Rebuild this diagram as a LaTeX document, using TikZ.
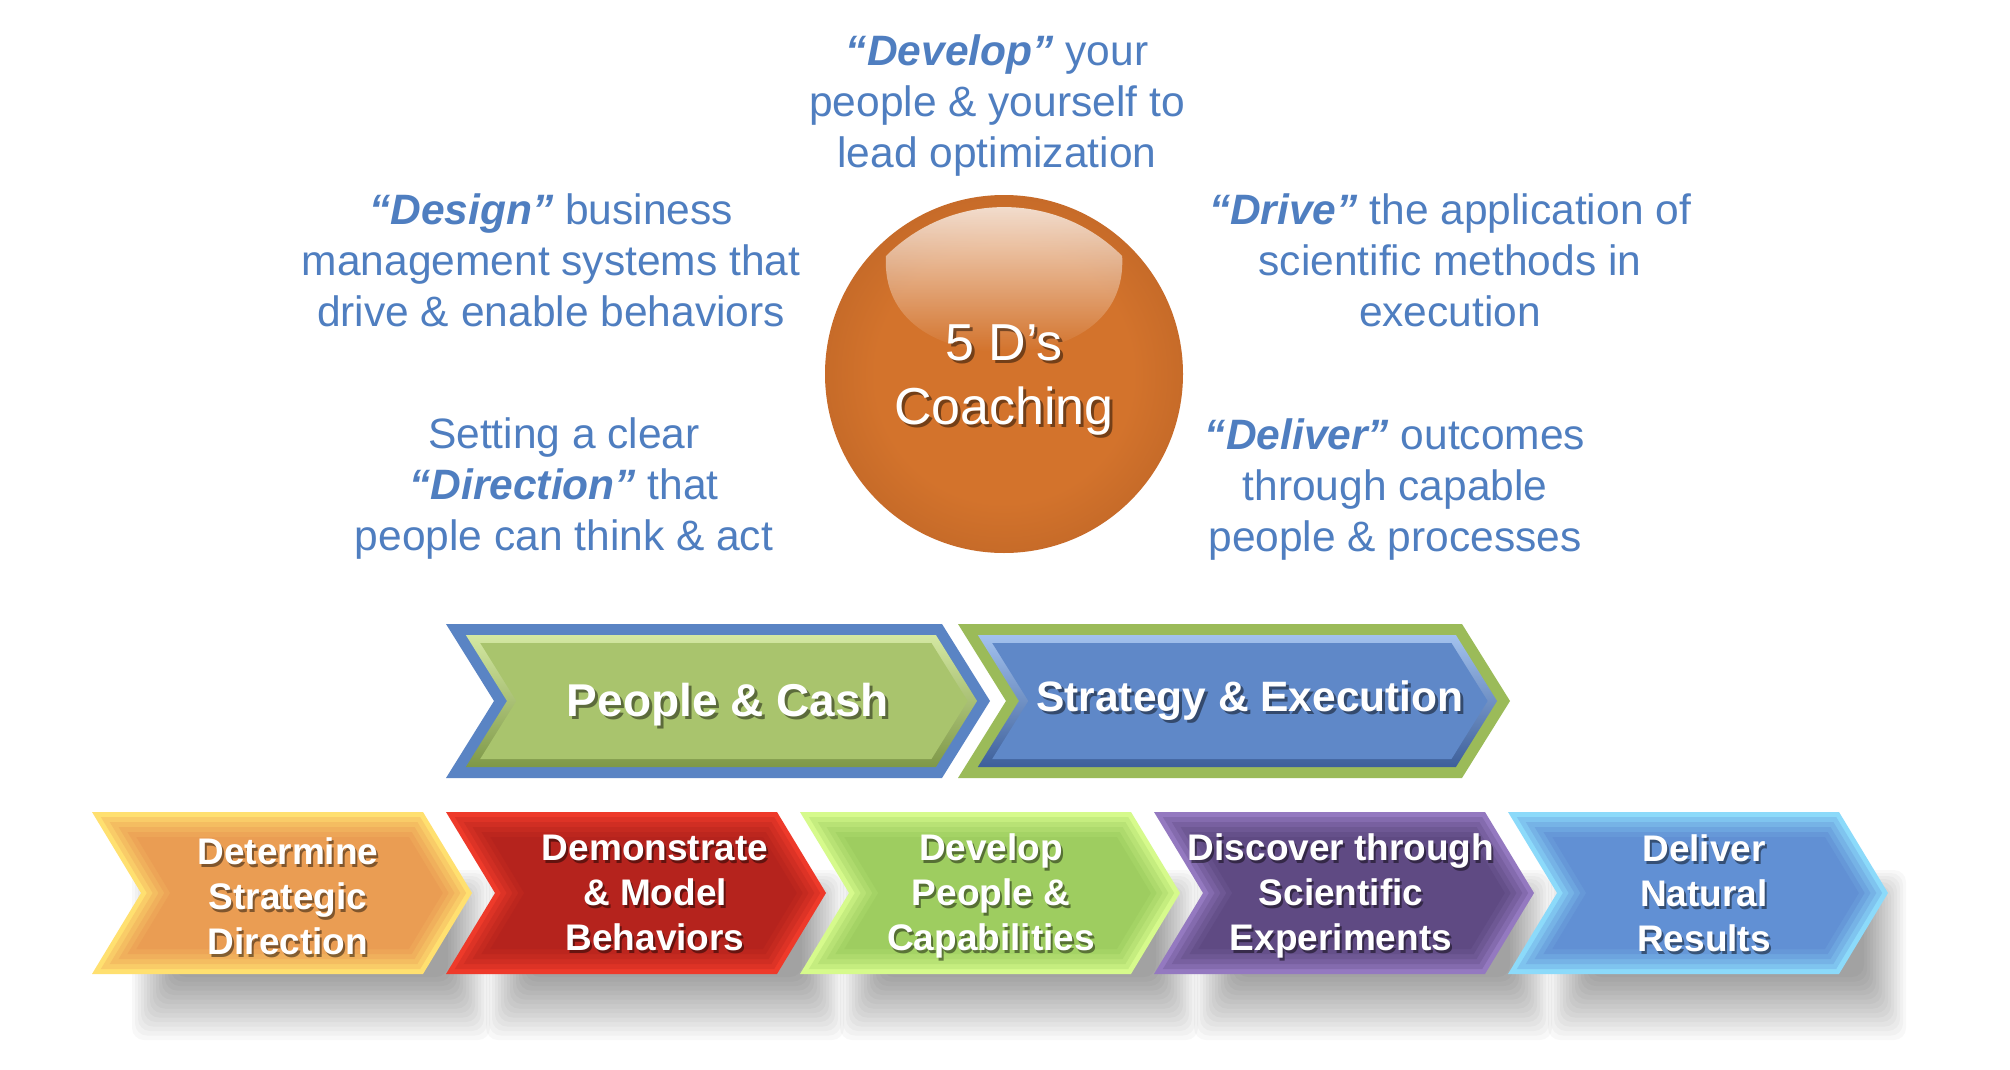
\documentclass[tikz,border=0pt]{standalone}
\usepackage{fontspec}
\setmainfont{Liberation Sans}
\usetikzlibrary{fadings}

\definecolor{txtblue}{HTML}{4F7EC0}
\definecolor{orbin}{HTML}{D3732C}
\definecolor{orbout}{HTML}{9A4E1D}
\definecolor{pcborder}{HTML}{5A84C4}
\definecolor{pcmain}{HTML}{A9C46D}
\definecolor{pclight}{HTML}{D4E8A2}
\definecolor{pcdark}{HTML}{7E9848}
\definecolor{seborder}{HTML}{9BBB59}
\definecolor{semain}{HTML}{5F88C8}
\definecolor{selight}{HTML}{A3C2EE}
\definecolor{sedark}{HTML}{3D5F9A}
\definecolor{oredge}{HTML}{FFE070}
\definecolor{ormain}{HTML}{E99A52}
\definecolor{rededge}{HTML}{EE3A2A}
\definecolor{redmain}{HTML}{B2221C}
\definecolor{gredge}{HTML}{D6FA8C}
\definecolor{grmain}{HTML}{9BCB5E}
\definecolor{puedge}{HTML}{9479C0}
\definecolor{pumain}{HTML}{5C4880}
\definecolor{bledge}{HTML}{8CDAFA}
\definecolor{blmain}{HTML}{5F8CD2}

\pgfdeclareradialshading{orb}{\pgfpoint{0bp}{0bp}}{color(0bp)=(orbin); color(18bp)=(orbin); color(50bp)=(orbout)}
\tikzfading[name=hlfade, top color=transparent!0, bottom color=transparent!100]

\newcommand\kw[1]{\textbf{\textit{#1}}}

% [options]{notch x}{point x}{mid y}{half height}{depth}{inset}
\newcommand\mychev[7][]{%
  \pgfmathsetmacro\chK{sqrt((#6)*(#6)+(#5)*(#5))/(#5)}%
  \pgfmathsetmacro\chN{#2+(#7)*\chK}%
  \pgfmathsetmacro\chP{#3-(#7)*\chK}%
  \pgfmathsetmacro\chH{(#5)-(#7)}%
  \pgfmathsetmacro\chD{(#6)*((#5)-(#7))/(#5)}%
  \path[#1] (\chN-\chD,#4-\chH) -- (\chP-\chD,#4-\chH) -- (\chP,#4)
    -- (\chP-\chD,#4+\chH) -- (\chN-\chD,#4+\chH) -- (\chN,#4) -- cycle;%
}

\tikzset{
  bluetxt/.style={text=txtblue, align=center, inner sep=0pt,
    font=\fontsize{42.5}{51}\selectfont},
  chevtxt/.style={text=white, align=center, inner sep=0pt,
    font=\bfseries\fontsize{37}{45}\selectfont},
  bigtxt/.style={text=white, align=center, inner sep=0pt,
    font=\bfseries\fontsize{46}{55}\selectfont},
  orbtxt/.style={text=white, align=center, inner sep=0pt,
    font=\fontsize{52}{64}\selectfont},
  shadowtxt/.style={text=black, text opacity=.45},
  shadowlayer/.style={fill=black, fill opacity=0.028},
}

\begin{document}
\begin{tikzpicture}[x=1pt,y=-1pt]
\useasboundingbox (0,0) rectangle (2010,1070);
\fill[white] (0,0) rectangle (2010,1070);

% ---- centre orb ----
\node[circle, minimum size=358pt, inner sep=0pt, shade, shading=orb] (orb) at (1004,374) {};
\coordinate (hlL) at (886,256);
\coordinate (hlR) at (1122,256);
\coordinate (hlB) at (1004,352);
\fill[white, fill opacity=.85, path fading=hlfade]
  (hlL) arc[start angle=135, end angle=45, radius=167pt]
  .. controls (1126,320) and (1070,352) .. (hlB)
  .. controls (938,352) and (882,320) .. (hlL) -- cycle;
\node[orbtxt, shadowtxt] (orbts) at (1007,383) {5 D’s\\Coaching};
\node[orbtxt] (orbt) at (1004,380) {5 D’s\\Coaching};

% ---- surrounding texts ----
\node[bluetxt] (develop) at (997,106) {\kw{“Develop”} your\\people \& yourself to\\lead optimization};
\node[bluetxt] (design) at (551,260) {\kw{“Design”} business\\management systems that\\drive \& enable behaviors};
\node[bluetxt] (drive) at (1450,260) {\kw{“Drive”} the application of\\scientific methods in\\execution};
\node[bluetxt] (direction) at (564,489) {Setting a clear\\\kw{“Direction”} that\\people can think \& act};
\node[bluetxt] (deliver) at (1395,490) {\kw{“Deliver”} outcomes\\through capable\\people \& processes};

% ---- top chevrons ----
\mychev[fill=pcborder]{494}{990}{701}{77}{48}{0}
\mychev[top color=pclight, bottom color=pcdark]{494}{990}{701}{77}{48}{11}
\mychev[fill=pcmain]{494}{990}{701}{77}{48}{19}
\mychev[fill=seborder]{1006}{1510}{701}{77}{48}{0}
\mychev[top color=selight, bottom color=sedark]{1006}{1510}{701}{77}{48}{11}
\mychev[fill=semain]{1006}{1510}{701}{77}{48}{19}

\node[bigtxt, shadowtxt] (pcs) at (731,708) {People \& Cash};
\node[bigtxt] (pc) at (728,705) {People \& Cash};
\node[bigtxt, shadowtxt, font=\bfseries\fontsize{42.5}{50}\selectfont] (ses) at (1253,704) {Strategy \& Execution};
\node[bigtxt, font=\bfseries\fontsize{42.5}{50}\selectfont] (se) at (1250,701) {Strategy \& Execution};

% ---- bottom chevrons: soft shadows (stacked translucent layers) ----
\foreach \i in {0,...,4}{
  \pgfmathsetmacro\xo{92+354*\i}
  \foreach \k in {0,...,14}{
    \fill[shadowlayer, rounded corners=12pt]
      (\xo+40+3*\k, 870+3*\k) rectangle (\xo+398-3*\k, 1040-4.5*\k);
  }
}
% ---- bottom chevrons ----
\foreach \i/\ce/\cm in {0/oredge/ormain,1/rededge/redmain,2/gredge/grmain,3/puedge/pumain,4/bledge/blmain}{
  \pgfmathsetmacro\xo{92+354*\i}
  \foreach \ins/\pc in {0/100,5/72,10/50,15/32,20/16,25/5}{
    \mychev[fill=\ce!\pc!\cm]{\xo+49}{\xo+380}{893}{81}{49}{\ins}
  }
}

\node[chevtxt, shadowtxt] (c1s) at (290,899) {Determine\\Strategic\\Direction};
\node[chevtxt] (c1) at (288,896) {Determine\\Strategic\\Direction};
\node[chevtxt, shadowtxt] (c2s) at (657,896) {Demonstrate\\\& Model\\Behaviors};
\node[chevtxt] (c2) at (655,893) {Demonstrate\\\& Model\\Behaviors};
\node[chevtxt, shadowtxt] (c3s) at (993,899) {Develop\\People \&\\Capabilities};
\node[chevtxt] (c3) at (991,896) {Develop\\People \&\\Capabilities};
\node[chevtxt, shadowtxt] (c4s) at (1343,899) {Discover through\\Scientific\\Experiments};
\node[chevtxt] (c4) at (1341,896) {Discover through\\Scientific\\Experiments};
\node[chevtxt, shadowtxt] (c5s) at (1706,896) {Deliver\\Natural\\Results};
\node[chevtxt] (c5) at (1704,893) {Deliver\\Natural\\Results};
\end{tikzpicture}
\end{document}
